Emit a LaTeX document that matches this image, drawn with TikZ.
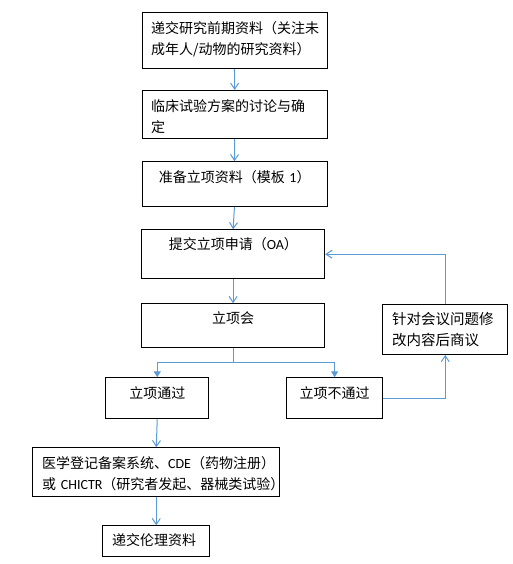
\documentclass[tikz,border=0pt]{standalone}
\usepackage{fontspec}
\setmainfont{Noto Sans CJK SC}
\newfontfamily\lat{Carlito}
\usetikzlibrary{arrows.meta,calc}
\definecolor{flowblue}{HTML}{5B9BD5}
\tikzset{
  box/.style={draw=black, line width=0.9pt, inner ysep=0pt, font=\fontsize{14}{21}\selectfont},
  lbox/.style={box, align=left},
  cbox/.style={box, align=center},
  flow/.style={draw=flowblue, line width=1pt, -{Straight Barb[length=6pt,width=8pt]}},
  flowf/.style={draw=flowblue, line width=1pt, -{Triangle[length=6pt,width=7pt]}},
}
\begin{document}
\begin{tikzpicture}[x=1pt,y=-1pt]
\useasboundingbox (0,0) rectangle (513,564);
% boxes
\node[lbox, anchor=north west, inner xsep=9.2pt, text width=166.6pt, text height=21.2pt, text depth=34.8pt] (b1) at (141.5,12.3)
  {递交研究前期资料（关注未\\成年人/动物的研究资料）};
\node[lbox, anchor=north west, inner xsep=9.2pt, text width=167.1pt, text height=21.2pt, text depth=27.1pt] (b2) at (141.5,90)
  {临床试验方案的讨论与确\\定};
\node[lbox, anchor=north west, inner xsep=16.8pt, text width=151.4pt, text height=20.6pt, text depth=24.1pt] (b3) at (141.5,161.3)
  {准备立项资料（模板~{\lat 1}）};
\node[lbox, anchor=north west, inner xsep=27.3pt, text width=128.7pt, text height=20.2pt, text depth=28.8pt] (b4) at (141,229.3)
  {提交立项申请（{\lat OA}）};
\node[cbox, anchor=north west, inner xsep=4pt, text width=175.3pt, text height=20.2pt, text depth=23.8pt] (b5) at (141,303.3)
  {立项会};
\node[cbox, anchor=north west, inner xsep=4pt, text width=95pt, text height=21.2pt, text depth=19.5pt] (b6) at (105.3,377.3)
  {立项通过};
\node[cbox, anchor=north west, inner xsep=4pt, text width=88.3pt, text height=21.2pt, text depth=19.5pt] (b7) at (286,377.3)
  {立项不通过};
\node[lbox, anchor=north west, inner xsep=9.4pt, text width=106.2pt, text height=19.9pt, text depth=29.8pt, font=\fontsize{14.5}{21}\selectfont] (b8) at (382.3,304.3)
  {针对会议问题修\\改内容后商议};
\node[lbox, anchor=north west, inner xsep=9.4pt, text width=228.2pt, text height=21.2pt, text depth=27.8pt] (b9) at (32.3,447.3)
  {医学登记备案系统、{\lat CDE}（药物注册）\\或~{\lat CHICTR}（研究者发起、器械类试验）};
\node[lbox, anchor=north west, inner xsep=9.4pt, text width=88.2pt, text height=19.9pt, text depth=11.1pt] (b10) at (102.3,525.3)
  {递交伦理资料};
% connectors
\draw[flow] (b1.south) -- (b2.north);
\draw[flow] (b2.south) -- (b3.north);
\draw[flow] (b3.south) -- (b4.north);
\draw[flow] (b4.south) -- (b5.north);
\coordinate (br) at ($(b5.south)+(0,14.4)$);
\draw[flowf] (b5.south) -- (br) -| (b6.north);
\draw[flowf] (br) -| (b7.north);
\draw[flow] (b6.south) -- (b9.north);
\draw[flow] (b9.south) -- (b10.north);
\draw[flow] (b7.east) -| (b8.south);
\draw[flow] (b8.north) |- (b4.east);
\end{tikzpicture}
\end{document}
